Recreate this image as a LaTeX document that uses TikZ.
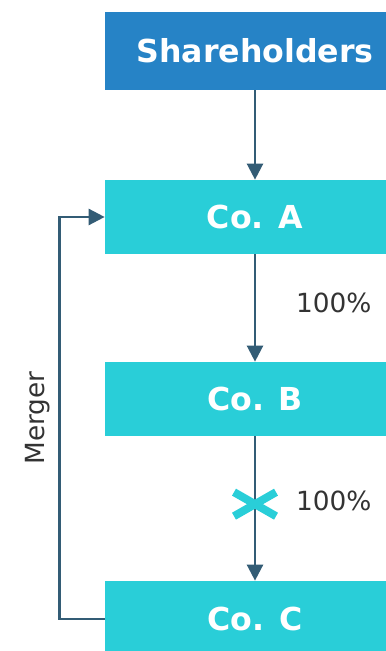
\documentclass[tikz,border=0pt]{standalone}
\usepackage{fontspec}
\setmainfont{DejaVu Sans}
\usetikzlibrary{arrows.meta, positioning}

\definecolor{ownerblue}{HTML}{2683C6}
\definecolor{cobox}{HTML}{29CED8}
\definecolor{linkblue}{HTML}{335C75}
\definecolor{labelgrey}{HTML}{333333}

\begin{document}
\begin{tikzpicture}[x=0.02cm, y=-0.02cm,
    entity/.style={rectangle, fill=cobox, text=white, font=\bfseries\fontsize{18}{20}\selectfont, minimum width=6cm, minimum height=1.48cm, inner sep=0pt},
    link/.style={draw=linkblue, line width=1.4pt, -{Triangle[length=0.32cm,width=0.32cm]}},
    share/.style={font=\fontsize{15}{17}\selectfont, text=labelgrey}]
    \useasboundingbox (0,0) rectangle (385,651);  % Page frame
    % Nodes
    \node[entity, fill=ownerblue, minimum height=1.56cm] (holders) at (255,51) {Shareholders};  % Top box
    \node[entity] (coa) at (255,217) {Co. A};  % Defines the box of Co. A
    \node[entity] (cob) at (255,399) {Co. B};  % Defines the box of Co. B
    \node[entity, minimum height=1.52cm] (coc) at (255,619) {Co. C};  % Defines the box of Co. C

    % Connections
    \draw[link] (holders) -- (coa);  % Shareholders own Co. A
    \draw[link] (coa) -- (cob) node[share, pos=0.45, anchor=west, xshift=0.68cm] {100\%};  % Co. A holds Co. B
    \draw[link] (cob) -- (coc) coordinate[pos=0.47] (cut) node[share, pos=0.45, anchor=west, xshift=0.68cm] {100\%};  % Co. B holds Co. C
    \draw[link] (coc.west) -- ++(-45,0) |- (coa.west) node[pos=0.25, above, rotate=90, share, yshift=0.06cm] {Merger};  % Merger back to Co. A

    % Cut mark on the Co. B -- Co. C link
    \draw[cobox, line width=0.16cm] ([shift={(-21,-12)}]cut) -- ([shift={(21,12)}]cut);
    \draw[cobox, line width=0.16cm] ([shift={(-21,12)}]cut) -- ([shift={(21,-12)}]cut);
\end{tikzpicture}
\end{document}
